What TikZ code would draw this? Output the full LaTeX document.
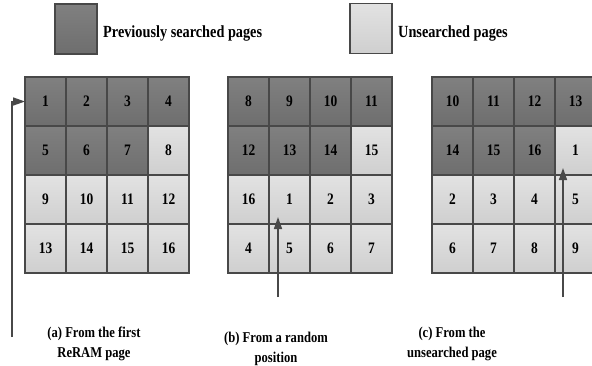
\documentclass[tikz,border=0pt]{standalone}
\usepackage{fontspec}
\setmainfont{Liberation Serif}[FakeStretch=0.84]
\usetikzlibrary{arrows.meta}
\definecolor{edgegray}{HTML}{484848}
\definecolor{darktop}{HTML}{808080}
\definecolor{darkbot}{HTML}{6E6E6E}
\definecolor{lighttop}{HTML}{E2E2E2}
\definecolor{lightbot}{HTML}{CFCFCF}
\tikzset{
  cellbox/.style={draw=edgegray, line width=1.5pt, minimum width=41pt,
    minimum height=49pt, inner sep=0pt, outer sep=0pt,
    font=\bfseries\fontsize{16}{18}\selectfont},
  searched/.style={cellbox, top color=darktop, bottom color=darkbot},
  unsearched/.style={cellbox, top color=lighttop, bottom color=lightbot},
  legendbox/.style={minimum width=42pt, minimum height=50pt},
  legendtext/.style={anchor=base west, inner sep=0pt,
    font=\bfseries\fontsize{17}{18}\selectfont},
  caption/.style={align=center, inner sep=0pt,
    font=\bfseries\fontsize{15}{20}\selectfont},
  pointer/.style={draw=edgegray, line width=1.5pt,
    -{Triangle[length=12pt,width=8pt,fill=edgegray]}}
}
\begin{document}
\begin{tikzpicture}[x=1pt, y=-1pt]
  \useasboundingbox (0,0) rectangle (592,365);
  \clip (0,0) rectangle (592,365);

  % legend
  \node[searched, legendbox] (legdark) at (76,29) {};
  \node[legendtext] (legdarktext) at (103,37) {Previously searched pages};
  \node[unsearched, legendbox] (leglight) at (371,28.5) {};
  \node[legendtext] (leglighttext) at (398,37) {Unsearched pages};

  % three 4x4 page grids; the first seven cells of each were searched before
  \foreach \g/\xo/\off in {a/25/0, b/228/7, c/432/9} {
    \foreach \k in {0,...,15} {
      \pgfmathtruncatemacro{\col}{mod(\k,4)}
      \pgfmathtruncatemacro{\row}{div(\k,4)}
      \pgfmathtruncatemacro{\num}{mod(\k+\off,16)+1}
      \ifnum\k<7
        \node[searched] (\g\k) at ({\xo+20.5+41*\col},{101.5+49*\row}) {\num};
      \else
        \node[unsearched] (\g\k) at ({\xo+20.5+41*\col},{101.5+49*\row}) {\num};
      \fi
    }
  }

  % start pointers
  \coordinate (pa) at (12,337);
  \draw[pointer] (pa) |- (a0.west);
  \coordinate (pb) at (278,297);
  \coordinate (tb) at (278,217);
  \draw[pointer] (pb) -- (tb);
  \coordinate (pc) at (563,297);
  \coordinate (tc) at (563,168);
  \draw[pointer] (pc) -- (tc);

  % captions (anchored at the baseline of their last line)
  \node[caption, anchor=base] (capa) at (94,357) {(a) From the first\\ReRAM page};
  \node[caption, anchor=base] (capb) at (276,362) {(b) From a random\\position};
  \node[caption, anchor=base] (capc) at (452,357) {(c) From the\\unsearched page};
\end{tikzpicture}
\end{document}
